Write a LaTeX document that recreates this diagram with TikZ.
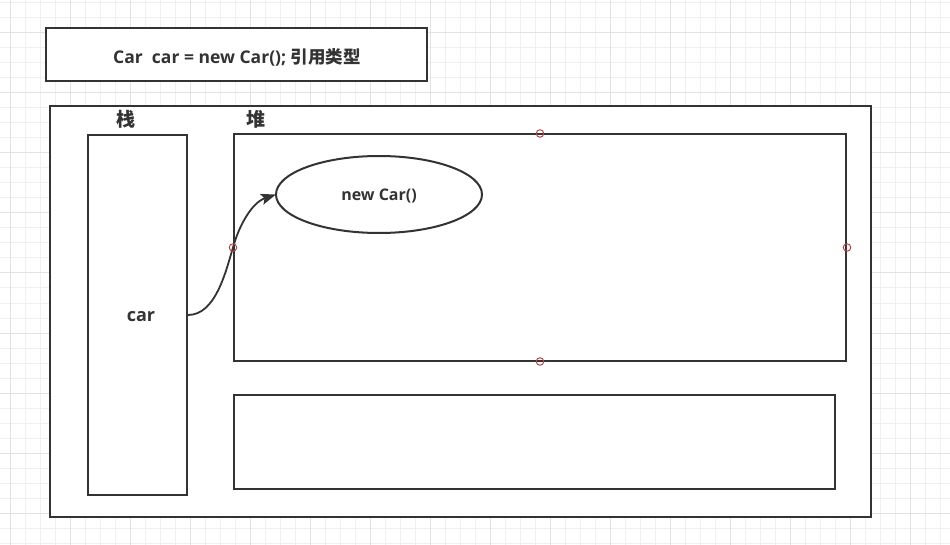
\documentclass[tikz,border=0pt]{standalone}
\usepackage{fontspec}
\setmainfont{Open Sans}
\newfontfamily\cjk{Noto Sans CJK SC}
\usetikzlibrary{arrows.meta}
\definecolor{ink}{HTML}{333333}
\definecolor{gridminor}{HTML}{F0F0F0}
\definecolor{gridmajor}{HTML}{E2E2E2}
\definecolor{ptred}{HTML}{B0474A}
\tikzset{
  box/.style={draw=ink, line width=2pt, fill=white, inner sep=0pt},
  lbl/.style={text=ink, font=\bfseries\fontsize{16}{18}\selectfont, inner sep=0pt},
  titlelbl/.style={text=ink, font=\bfseries\fontsize{17.5}{20}\selectfont, inner sep=0pt},
  head/.style={text=ink, font=\cjk\bfseries\fontsize{19}{21}\selectfont, inner sep=0pt},
  link/.style={draw=ink, line width=1.8pt, -{Stealth[length=15pt,width=11pt,inset=3pt]}},
  cpoint/.style={draw=ptred, line width=1pt, fill=none, circle, minimum size=7.5pt, inner sep=0pt}
}
\begin{document}
\begin{tikzpicture}[x=1pt,y=-1pt]
\useasboundingbox (0,0) rectangle (950,545);
\fill[white] (0,0) rectangle (950,545);
% grid
\foreach \i in {0,...,62} {\draw[gridminor, line width=1pt] (10+15*\i,0) -- (10+15*\i,545);}
\foreach \i in {0,...,36} {\draw[gridminor, line width=1pt] (0,3+15*\i) -- (950,3+15*\i);}
\foreach \i in {0,...,15} {\draw[gridmajor, line width=1pt] (10+60*\i,0) -- (10+60*\i,545);}
\foreach \i in {0,...,8} {\draw[gridmajor, line width=1pt] (0,33+60*\i) -- (950,33+60*\i);}
% title box
\draw[box] (46,28) rectangle (427,81);
\node[titlelbl] (title) at (237,57) {Car~~car = new Car(); {\cjk\bfseries 引用类型}};
% outer frame
\draw[box] (50,106) rectangle (870.5,516.5);
\node[head] (stacklbl) at (126,119) {栈};
\node[head] (heaplbl) at (256,119) {堆};
% stack
\node[box, minimum width=99pt, minimum height=360pt] (stack) at (137.5,315) {};
\node[lbl, font=\bfseries\fontsize{18}{20}\selectfont] (car) at (141,317) {car};
% heap
\node[box, minimum width=612pt, minimum height=226pt] (heap) at (540,247.5) {};
\node[box, minimum width=601pt, minimum height=94pt] (lower) at (534.5,442) {};
% object ellipse
\draw[ink, line width=2pt, fill=white] (379,194.5) ellipse [x radius=103, y radius=38.5];
\node[lbl, minimum width=206pt, minimum height=77pt] (obj) at (379,195.5) {new Car()};
\coordinate (objw) at (276,194.5);
% reference arrow
\draw[link] (stack.east) .. controls +(28,0) and +(-7,23) .. (heap.west) .. controls +(6,-22) and +(-24,8) .. (objw);
% connection points
\node[cpoint] (p1) at (heap.north) {};
\node[cpoint] (p2) at (heap.west) {};
\node[cpoint] (p3) at (heap.east) {};
\node[cpoint] (p4) at (heap.south) {};
\end{tikzpicture}
\end{document}
